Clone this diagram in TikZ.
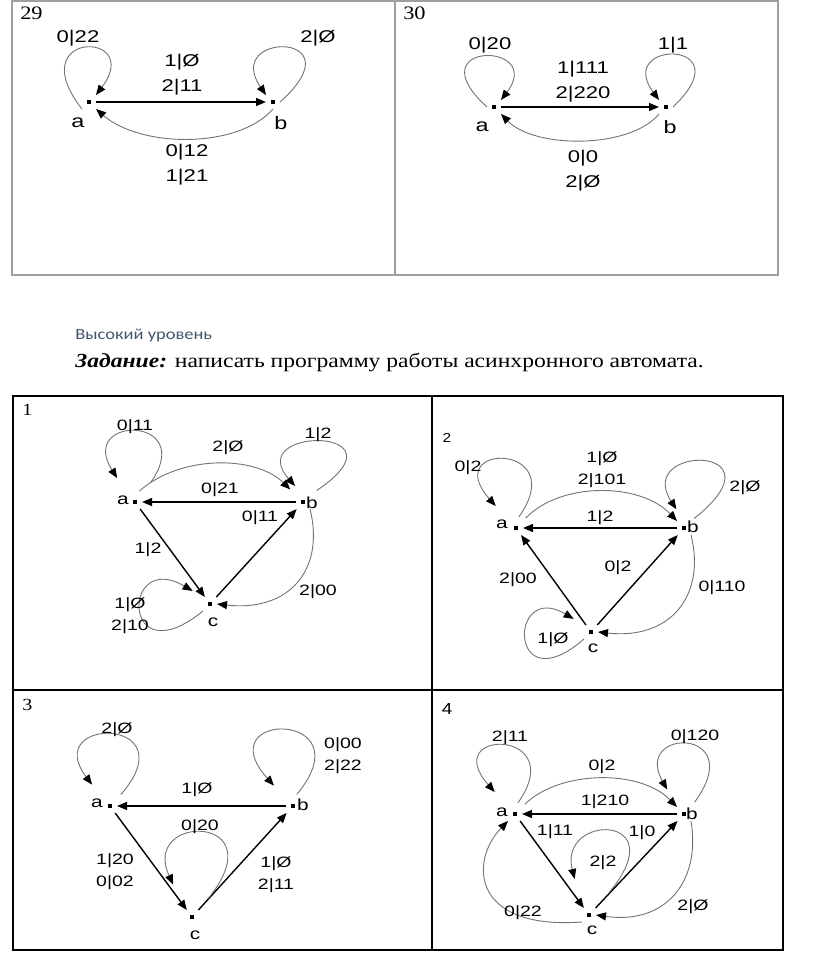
\documentclass[tikz,border=0pt]{standalone}
\usepackage{fontspec}
\setmainfont{Liberation Serif}[FakeStretch=1.18]
\setsansfont{Liberation Sans}[FakeStretch=1.18]
\newfontfamily\labfont{Liberation Sans}[FakeStretch=1.3]
\newfontfamily\levelfont{Carlito}[FakeStretch=1.19]
\usetikzlibrary{arrows.meta}
\definecolor{levelblue}{RGB}{68,84,106}

\begin{document}
\begin{tikzpicture}[x=1pt,y=-1pt,line width=.5pt,
  st/.style={rectangle,fill=black,inner sep=0pt,minimum size=4pt,outer sep=5pt},
  nm/.style={inner sep=0pt,font=\fontsize{16}{18}\selectfont\labfont},
  nmt/.style={inner sep=0pt,font=\fontsize{18}{20}\selectfont\labfont},
  lb/.style={inner sep=0pt,align=center,font=\fontsize{15}{22}\selectfont\labfont},
  lbt/.style={inner sep=0pt,align=center,font=\fontsize{17}{25}\selectfont\labfont},
  num/.style={anchor=base west,inner sep=0pt,font=\fontsize{19}{22}\selectfont},
  tr/.style={line width=1.4pt,-{Triangle[length=10pt,width=8pt]}},
  cv/.style={draw=black!55,line width=.9pt,-{Triangle[length=10pt,width=8pt,color=black]}}]
\path[use as bounding box] (0,0) rectangle (816,971);
% tables
\draw[gray!75,line width=1.5pt] (12,1) rectangle (778,275);
\draw[gray!75,line width=1.5pt] (395,1) -- (395,275);
\draw[line width=2pt] (13,396) rectangle (783,950);
\draw[line width=2pt] (432,396) -- (432,950);
\draw[line width=2pt] (13,690) -- (783,690);
\node[anchor=base west,inner sep=0pt,text=levelblue,font=\fontsize{15.5}{18}\selectfont\levelfont] (level) at (75,339) {Высокий уровень};
\node[anchor=base west,inner sep=0pt,font=\fontsize{20}{24}\selectfont] (task) at (75,367) {\textbf{\textit{Задание:}} написать программу работы асинхронного автомата.};

% 29
\node[num] (n29) at (20,20) {29};
\node[st] (a29) at (89,102) {};
\node[st] (b29) at (273,102) {};
\node[nmt] (la29) at (78,123) {a};
\node[nmt] (lb29) at (281,123) {b};
\draw[tr] (a29) -- (b29);
\draw[cv] (a29.south west) .. controls +(-62,-79) and +(49,-65) .. (a29.north east);
\draw[cv] (b29.east) .. controls +(80,-71) and +(-44,-64) .. (b29.north west);
\draw[cv] (b29.south) .. controls +(-35,40) and +(45,39) .. (a29.south east);
\node[lbt] (t29aa) at (78,38) {0|22};
\node[lbt] (t29bb) at (318,38) {2|Ø};
\node[lbt] (t29ab) at (182,75) {1|Ø\\2|11};
\node[lbt] (t29ba) at (187,165) {0|12\\1|21};

% 30
\node[num] (n30) at (403,20) {30};
\node[st] (a30) at (494,107) {};
\node[st] (b30) at (666,107) {};
\node[nmt] (la30) at (482,127) {a};
\node[nmt] (lb30) at (670,127) {b};
\draw[tr] (a30) -- (b30);
\draw[cv] (a30.west) .. controls +(-73,-66) and +(45,-59) .. (a30.north east);
\draw[cv] (b30.east) .. controls +(72,-68) and +(-45,-61) .. (b30.north west);
\draw[cv] (b30.south west) .. controls +(-29,35) and +(34,35) .. (a30.south east);
\node[lbt] (t30aa) at (490,45) {0|20};
\node[lbt] (t30bb) at (673,45) {1|1};
\node[lbt] (t30ab) at (583,82) {1|111\\2|220};
\node[lbt] (t30ba) at (583,171) {0|0\\2|Ø};

% 1
\node[num,font=\fontsize{17}{20}\selectfont] (n1) at (22,415) {1};
\node[st] (a1) at (135,502) {};
\node[st] (b1) at (303,502) {};
\node[st] (c1) at (210,604) {};
\node[nm] (la1) at (123,500) {a};
\node[nm] (lb1) at (312,503) {b};
\node[nm] (lc1) at (213,622) {c};
\draw[tr] (b1) -- (a1);
\draw[tr] (a1) -- (c1);
\draw[tr] (c1) -- (b1);
\draw[cv,shorten <=15pt,shorten >=20pt] (a1.north east) .. controls +(56,-80) and +(-51,-80) .. (a1.north west);
\draw[cv,shorten <=6pt,shorten >=8pt] (a1.north) .. controls +(45,-40) and +(-41,-40) .. (b1.north west);
\draw[cv,shorten <=8pt,shorten >=12pt] (b1.north east) .. controls +(103,-69) and +(-61,-69) .. (b1.north);
\draw[cv] (b1.south east) .. controls +(15,60) and +(73,8) .. (c1.east);
\draw[cv,shorten >=12pt] (c1.south west) .. controls +(-82,67) and +(-82,-48) .. (c1.north west);
\node[lb] (t1aa) at (135,427) {0|11};
\node[lb] (t1ab) at (228,448) {2|Ø};
\node[lb] (t1bb) at (318,435) {1|2};
\node[lb] (t1ba) at (220,490) {0|21};
\node[lb] (t1cb) at (260,518) {0|11};
\node[lb] (t1ac) at (148,550) {1|2};
\node[lb] (t1bc) at (318,592) {2|00};
\node[lb] (t1cc) at (130,616) {1|Ø\\2|10};

% 2
\node[inner sep=0pt,font=\fontsize{13}{15}\selectfont\sffamily] (n2) at (447,438) {2};
\node[st] (a2) at (516,528) {};
\node[st] (b2) at (684,528) {};
\node[st] (c2) at (591,632) {};
\node[nm] (la2) at (502,524) {a};
\node[nm] (lb2) at (693,527) {b};
\node[nm] (lc2) at (593,648) {c};
\draw[tr] (b2) -- (a2);
\draw[tr] (c2) -- (a2);
\draw[tr] (c2) -- (b2);
\draw[cv,shorten <=5pt,shorten >=20pt] (a2.north) .. controls +(56,-79) and +(-70,-79) .. (a2.north west);
\draw[cv,shorten <=4pt] (a2.north east) .. controls +(37,-39) and +(-37,-39) .. (b2.north west);
\draw[cv,shorten <=4pt,shorten >=14pt] (b2.north east) .. controls +(97,-77) and +(-50,-77) .. (b2.north);
\draw[cv] (b2.south east) .. controls +(15,60) and +(73,8) .. (c2.east);
\draw[cv,shorten >=12pt] (c2.south west) .. controls +(-76,66) and +(-76,-45) .. (c2.north west);
\node[lb] (t2aa) at (468,468) {0|2};
\node[lb] (t2ab) at (602,470) {1|Ø\\2|101};
\node[lb] (t2bb) at (745,488) {2|Ø};
\node[lb] (t2ba) at (600,518) {1|2};
\node[lb] (t2ca) at (518,580) {2|00};
\node[lb] (t2cb) at (618,568) {0|2};
\node[lb] (t2bc) at (722,588) {0|110};
\node[lb] (t2cc) at (553,640) {1|Ø};

% 3
\node[num,font=\fontsize{17}{20}\selectfont] (n3) at (22,710) {3};
\node[st] (a3) at (110,806) {};
\node[st] (b3) at (293,806) {};
\node[st] (c3) at (192,917) {};
\node[nm] (la3) at (97,803) {a};
\node[nm] (lb3) at (303,805) {b};
\node[nm] (lc3) at (195,935) {c};
\draw[tr] (b3) -- (a3);
\draw[tr] (a3) -- (c3);
\draw[tr] (c3) -- (b3);
\draw[cv,shorten <=6pt,shorten >=18pt] (a3.north east) .. controls +(72,-83) and +(-63,-83) .. (a3.north west);
\draw[cv,shorten <=6pt,shorten >=18pt] (b3.north) .. controls +(74,-89) and +(-80,-89) .. (b3.north west);
\draw[cv,shorten <=15pt,shorten >=28pt] (c3.north east) .. controls +(78,-97) and +(-45,-97) .. (c3.north west);
\node[lb] (t3aa) at (117,730) {2|Ø};
\node[lb] (t3bb) at (343,756) {0|00\\2|22};
\node[lb] (t3ba) at (197,790) {1|Ø};
\node[lb] (t3cc) at (200,827) {0|20};
\node[lb] (t3ac) at (115,872) {1|20\\0|02};
\node[lb] (t3cb) at (276,875) {1|Ø\\2|11};

% 4
\node[inner sep=0pt,font=\fontsize{16}{18}\selectfont\sffamily] (n4) at (447,709) {4};
\node[st] (a4) at (515,814) {};
\node[st] (b4) at (684,814) {};
\node[st] (c4) at (589,915) {};
\node[nm] (la4) at (502,812) {a};
\node[nm] (lb4) at (692,814) {b};
\node[nm] (lc4) at (592,930) {c};
\draw[tr] (b4) -- (a4);
\draw[tr] (a4) -- (c4);
\draw[tr] (c4) -- (b4);
\draw[cv,shorten <=5pt,shorten >=20pt] (a4.north) .. controls +(56,-79) and +(-70,-79) .. (a4.north west);
\draw[cv,shorten <=4pt] (a4.north east) .. controls +(38,-37) and +(-37,-38) .. (b4.north west);
\draw[cv,shorten <=6pt,shorten >=20pt] (b4.north east) .. controls +(59,-80) and +(-45,-80) .. (b4.north west);
\draw[cv,shorten <=20pt,shorten >=30pt] (c4.north east) .. controls +(80,-95) and +(-24,-95) .. (c4.north west);
\draw[cv] (c4.south west) .. controls +(-112,8) and +(-38,39) .. (a4.south west);
\draw[cv] (b4.south east) .. controls +(10,60) and +(70,10) .. (c4.east);
\node[lb] (t4aa) at (510,738) {2|11};
\node[lb] (t4bb) at (695,737) {0|120};
\node[lb] (t4ab) at (602,767) {0|2};
\node[lb] (t4ba) at (605,802) {1|210};
\node[lb] (t4ac) at (555,832) {1|11};
\node[lb] (t4cb) at (642,833) {1|0};
\node[lb] (t4cc) at (603,863) {2|2};
\node[lb] (t4ca) at (523,913) {0|22};
\node[lb] (t4bc) at (693,907) {2|Ø};
\end{tikzpicture}
\end{document}
